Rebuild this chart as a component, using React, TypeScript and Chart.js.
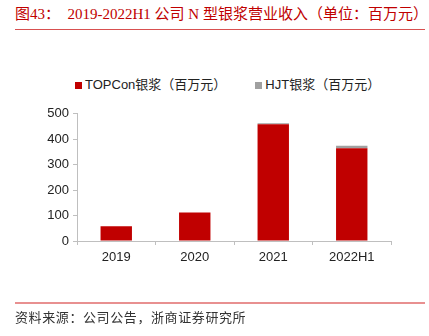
import React, { useEffect, useRef } from "react";
import { Chart, registerables } from "chart.js";

Chart.register(...registerables);

const categories = ["2019", "2020", "2021", "2022H1"];
const topconValues = [58, 112, 459, 365];
const hjtValues = [0, 0, 4, 9];
const seriesLabels = ["TOPCon银浆（百万元）", "HJT银浆（百万元）"];
const yTicks = [0, 100, 200, 300, 400, 500];

const RED = "#C00000";
const GRAY = "#A0A0A0";
const AXIS = "#BFBFBF";

export default function App() {
  const ref = useRef<HTMLCanvasElement>(null);

  useEffect(() => {
    if (!ref.current) return;
    const chart = new Chart(ref.current, {
      type: "bar",
      data: {
        labels: categories,
        datasets: [
          {
            label: seriesLabels[0],
            data: topconValues,
            backgroundColor: RED,
            borderWidth: 0,
            barPercentage: 0.4,
            categoryPercentage: 1,
          },
          {
            label: seriesLabels[1],
            data: hjtValues,
            backgroundColor: GRAY,
            borderWidth: 0,
            barPercentage: 0.4,
            categoryPercentage: 1,
          },
        ],
      },
      options: {
        responsive: false,
        animation: false,
        layout: { padding: { left: 0, right: 38, top: 0, bottom: 0 } },
        plugins: { legend: { display: false }, tooltip: { enabled: false } },
        scales: {
          x: {
            stacked: true,
            grid: {
              display: true,
              drawOnChartArea: false,
              offset: true,
              tickLength: 4,
              color: AXIS,
            },
            border: { color: AXIS, width: 1 },
            ticks: {
              color: "#222",
              font: { family: "Liberation Sans, Arial", size: 13 },
              padding: 5,
            },
            afterFit: (s: any) => {
              s.height = 336 - 241;
            },
          },
          y: {
            stacked: true,
            min: 0,
            max: 500,
            afterBuildTicks: (s: any) => {
              s.ticks = yTicks.map((v) => ({ value: v }));
            },
            grid: {
              display: true,
              drawOnChartArea: false,
              tickLength: 4,
              color: AXIS,
            },
            border: { color: AXIS, width: 1 },
            ticks: {
              color: "#222",
              font: { family: "Liberation Sans, Arial", size: 13 },
              padding: 4,
            },
            afterFit: (s: any) => {
              s.width = 77;
            },
          },
        },
      },
    });
    return () => chart.destroy();
  }, []);

  return (
    <div
      style={{
        position: "fixed",
        left: 0,
        top: 0,
        width: 429,
        height: 336,
        background: "#fff",
        overflow: "hidden",
      }}
    >
      <div
        style={{
          position: "absolute",
          left: 15,
          top: 5,
          fontFamily: "'Liberation Serif', 'Noto Sans CJK SC', serif",
          fontSize: 15,
          color: RED,
          whiteSpace: "nowrap",
          lineHeight: "18px",
        }}
      >
        图43：&nbsp;&nbsp;2019-2022H1 公司 N 型银浆营业收入（单位：百万元）
      </div>
      <div
        style={{
          position: "absolute",
          left: 15,
          top: 29,
          width: 410,
          height: 1,
          background: "#D85050",
        }}
      />
      <div
        style={{
          position: "absolute",
          left: 0,
          top: 102,
          width: 429,
          height: 234,
        }}
      >
        <canvas ref={ref} width={429} height={234} />
      </div>
      <div
        style={{
          position: "absolute",
          left: 75,
          top: 77,
          display: "flex",
          alignItems: "center",
          fontFamily: "'Liberation Sans', 'Noto Sans CJK SC', sans-serif",
          fontSize: 13,
          color: "#222",
          whiteSpace: "nowrap",
          lineHeight: "16px",
        }}
      >
        <span style={{ width: 7, height: 7, background: RED, display: "inline-block", marginRight: 3 }} />
        <span>{seriesLabels[0]}</span>
        <span style={{ width: 7, height: 7, background: GRAY, display: "inline-block", marginLeft: 29, marginRight: 3 }} />
        <span>{seriesLabels[1]}</span>
      </div>
      <div
        style={{
          position: "absolute",
          left: 15,
          top: 302,
          width: 410,
          height: 2,
          background: "#E89090",
        }}
      />
      <div
        style={{
          position: "absolute",
          left: 15,
          top: 310,
          fontFamily: "'Liberation Serif', 'Noto Sans CJK SC', serif",
          fontSize: 13,
          letterSpacing: 0.6,
          color: "#333",
          whiteSpace: "nowrap",
          lineHeight: "16px",
        }}
      >
        资料来源：公司公告，浙商证券研究所
      </div>
    </div>
  );
}
